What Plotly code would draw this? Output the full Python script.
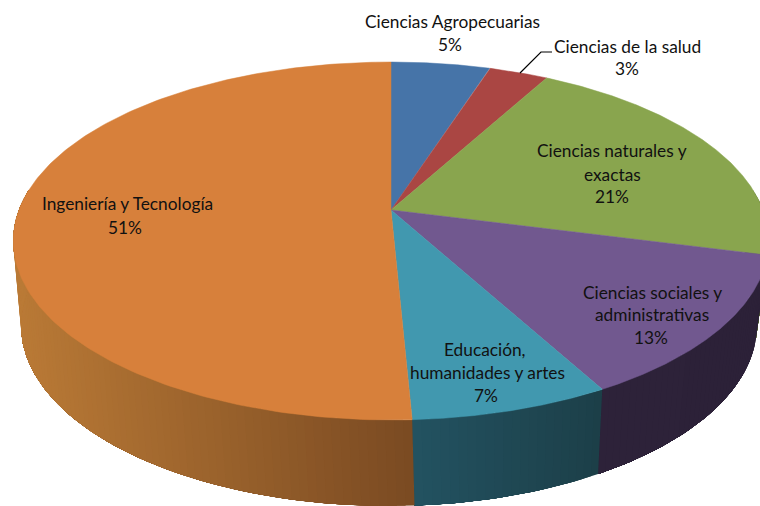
import numpy as np
import plotly.graph_objects as go

categories = ["Ciencias Agropecuarias", "Ciencias de la salud", "Ciencias naturales y exactas",
              "Ciencias sociales y administrativas", "Educación, humanidades y artes",
              "Ingeniería y Tecnología"]
values = [5, 3, 21, 13, 7.25, 50.75]
percent_labels = ["5%", "3%", "21%", "13%", "7%", "51%"]
top_colors = ["#4674A8", "#AA4643", "#89A54E", "#71588F", "#4198AF", "#D7803B"]
wall_left = ["#2A4564", "#662A28", "#52632E", "#2D2239", "#235261", "#BA7A36"]
wall_right = ["#2A4564", "#662A28", "#52632E", "#2C2138", "#1C3F48", "#7A4A22"]

# label lines: (text, x centre, y centre)
label_layout = [
    [("Ciencias Agropecuarias", 452, 21), ("5%", 450, 44)],
    [("Ciencias de la salud", 627, 46), ("3%", 627, 68)],
    [("Ciencias naturales y", 612, 150), ("exactas", 612, 174), ("21%", 612, 196)],
    [("Ciencias sociales y", 652, 292), ("administrativas", 652, 314), ("13%", 651, 337)],
    [("Educación,", 485, 349), ("humanidades y artes", 487, 372), ("7%", 486, 395)],
    [("Ingeniería y Tecnología", 127, 203), ("51%", 125, 227)],
]

# projection of the pie disc (perspective) and of its lower rim
APEX_X, APEX_Y = 391, 210
K, A, B = 0.1732, 173.6, 372
TOP_CX, TOP_CY, TOP_RX, TOP_RY = 386, 241, 378, 179
BOT_CX, BOT_CY, BOT_RX, BOT_RY = 389, 325, 368, 181


def top_point(theta):
    u, v = np.sin(theta), np.cos(theta)
    d = 1 + K * v
    return APEX_X + B * u / d, APEX_Y - A * v / d


def bottom_point(theta):
    x, y = top_point(theta)
    phi = np.arctan2((y - TOP_CY) / TOP_RY, (x - TOP_CX) / TOP_RX)
    return BOT_CX + BOT_RX * np.cos(phi), BOT_CY + BOT_RY * np.sin(phi)


def mix(c1, c2, t):
    a = [int(c1[i:i + 2], 16) for i in (1, 3, 5)]
    b = [int(c2[i:i + 2], 16) for i in (1, 3, 5)]
    return "rgb(%d,%d,%d)" % tuple(round(p + (q - p) * t) for p, q in zip(a, b))


fig = go.Figure()
fractions = np.cumsum([0] + values) / sum(values)

# outer walls: overlapping strips give the shading; only the front half shows
for i in range(len(values)):
    t0, t1 = fractions[i] * 2 * np.pi, fractions[i + 1] * 2 * np.pi
    t0, t1 = max(t0, np.pi / 2 - 0.12), min(t1, 3 * np.pi / 2 + 0.12)
    if t1 <= t0:
        continue
    n = max(2, int((t1 - t0) / 0.02))
    grid = np.linspace(t0, t1, n + 1)
    xs = [top_point(t)[0] for t in grid]
    lo, hi = min(xs), max(xs)
    for k in range(n):
        a = grid[k]
        xm = top_point((a + grid[k + 1]) / 2)[0]
        shade = (xm - lo) / max(hi - lo, 1)
        # each strip runs on to the end of its slice side so no seam is left
        sub = np.linspace(a, t1, 2 + int((t1 - a) / 0.02))
        p_top = [top_point(t) for t in sub]
        p_bot = [bottom_point(t) for t in sub[::-1]]
        px = [p[0] for p in p_top + p_bot]
        py = [p[1] for p in p_top + p_bot]
        col = mix(wall_left[i], wall_right[i], min(max(shade, 0), 1))
        fig.add_trace(go.Scatter(x=px + px[:1], y=py + py[:1], mode="lines", fill="toself",
                                 fillcolor=col, line=dict(width=0),
                                 hoverinfo="skip", showlegend=False))

# top faces of the slices
for i, cat in enumerate(categories):
    grid = np.linspace(fractions[i], fractions[i + 1], 200) * 2 * np.pi
    pts = [top_point(t) for t in grid]
    px = [APEX_X] + [p[0] for p in pts] + [APEX_X]
    py = [APEX_Y] + [p[1] for p in pts] + [APEX_Y]
    fig.add_trace(go.Scatter(x=px, y=py, mode="lines", fill="toself", fillcolor=top_colors[i],
                             line=dict(color=top_colors[i], width=0.5), name=cat,
                             text=percent_labels[i], hoverinfo="name+text", showlegend=False))

# leader line for "Ciencias de la salud"
fig.add_trace(go.Scatter(x=[520, 541, 552], y=[73, 52, 52], mode="lines",
                         line=dict(color="#000000", width=1.2), hoverinfo="skip", showlegend=False))

annotations = []
for lines in label_layout:
    for text, x, y in lines:
        annotations.append(dict(x=x, y=y, xref="x", yref="y", text=text, showarrow=False,
                                xanchor="center", yanchor="middle",
                                font=dict(family="Lato", size=17.3, color="#111111")))

fig.update_layout(
    width=760, height=506, margin=dict(l=0, r=0, t=0, b=0),
    paper_bgcolor="#ffffff", plot_bgcolor="#ffffff", showlegend=False,
    xaxis=dict(range=[0, 760], visible=False, fixedrange=True),
    yaxis=dict(range=[506, 0], visible=False, fixedrange=True),
    annotations=annotations,
)
fig.write_html("out.html", config={"displayModeBar": False},
               post_script="document.body.style.margin='0';document.documentElement.style.overflow='hidden';")
